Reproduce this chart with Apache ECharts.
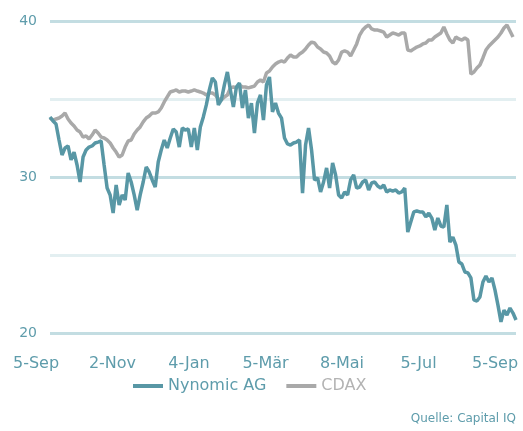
<!DOCTYPE html>
<html>
<head>
<meta charset="utf-8">
<script src="https://cdn.jsdelivr.net/npm/echarts@6/dist/echarts.min.js"></script>
<style>
html,body{margin:0;padding:0;background:#fff;}
#chart{width:523px;height:431px;}
</style>
</head>
<body>
<div id="chart"></div>
<script>
// Tick labels
var xTickLabels = ['5-Sep', '2-Nov', '4-Jan', '5-Mär', '8-Mai', '5-Jul', '5-Sep'];
var seriesNames = ['Nynomic AG', 'CDAX'];

// Nynomic AG (observation order, evenly spaced over the year)
var nynomic = [
  33.85,33.59,33.40,32.37,31.41,31.86,31.99,31.09,31.60,30.77,
  29.68,31.28,31.73,31.92,31.99,32.18,32.24,32.31,30.77,29.29,
  28.85,27.69,29.49,28.21,28.85,28.53,30.26,29.68,28.85,27.88,
  28.85,29.68,30.64,30.32,29.81,29.36,30.96,31.73,32.37,31.86,
  32.50,33.08,32.88,31.92,33.14,33.01,33.08,31.92,33.14,31.73,
  33.21,33.85,34.62,35.58,36.35,36.09,34.62,34.94,35.90,36.73,
  35.58,34.49,35.77,36.03,34.42,35.58,33.78,34.74,32.82,34.74,
  35.26,33.65,35.90,36.41,34.17,34.74,34.10,33.78,32.50,32.12,
  32.05,32.18,32.24,32.37,28.97,32.05,33.14,31.73,29.81,29.94,
  29.04,29.68,30.58,29.29,30.90,30.13,28.85,28.65,29.04,28.85,
  29.81,30.13,29.29,29.36,29.68,29.81,29.17,29.62,29.68,29.42,
  29.29,29.49,29.04,29.17,29.10,29.17,28.97,29.04,29.29,26.47,
  27.12,27.76,27.82,27.76,27.76,27.44,27.69,27.37,26.60,27.37,
  26.86,26.79,28.21,25.83,26.15,25.64,24.55,24.42,23.91,23.85,
  23.53,22.12,22.05,22.31,23.27,23.65,23.27,23.53,22.76,21.79,
  20.71,21.47,21.15,21.60,21.28,20.83
];

// CDAX (rebased)
var cdax = [
  33.78,33.65,33.72,33.78,33.91,34.10,33.72,33.46,33.27,33.01,
  32.88,32.56,32.63,32.44,32.69,33.01,32.82,32.56,32.50,32.37,
  32.18,31.86,31.60,31.28,31.41,31.92,32.31,32.37,32.76,33.01,
  33.21,33.53,33.78,33.91,34.10,34.10,34.17,34.42,34.81,35.13,
  35.45,35.51,35.58,35.45,35.51,35.51,35.45,35.51,35.58,35.51,
  35.45,35.38,35.26,35.38,35.38,35.26,35.00,34.94,35.13,35.26,
  35.71,35.77,35.71,35.90,35.77,35.77,35.71,35.77,35.83,36.09,
  36.22,36.09,36.67,36.79,37.05,37.24,37.37,37.44,37.37,37.63,
  37.82,37.69,37.69,37.88,38.01,38.21,38.46,38.65,38.59,38.33,
  38.21,38.01,37.95,37.76,37.37,37.24,37.50,38.01,38.08,38.01,
  37.76,38.14,38.53,39.10,39.42,39.62,39.74,39.49,39.42,39.42,
  39.36,39.29,38.97,39.10,39.23,39.17,39.10,39.23,39.23,38.14,
  38.08,38.21,38.33,38.40,38.53,38.59,38.78,38.78,38.97,39.10,
  39.23,39.62,39.17,38.78,38.59,38.97,38.85,38.78,38.91,38.78,
  36.60,36.73,36.99,37.18,37.63,38.14,38.40,38.59,38.78,38.97,
  39.23,39.55,39.74,39.36,38.97
];

var obs = nynomic.map(function(_, i){ return i; });

var teal = '#5897a5';
var gray = '#a9a9a9';
var labelColor = '#5e9cab';
var fontFam = 'DejaVu Sans';

var chart = echarts.init(document.getElementById('chart'), null, {renderer: 'canvas'});
chart.setOption({
  animation: false,
  backgroundColor: '#ffffff',
  title: {
    text: 'Quelle: Capital IQ',
    right: 2, bottom: 1,
    textStyle: {fontSize: 12, fontWeight: 'normal', color: labelColor, fontFamily: fontFam}
  },
  legend: {
    left: 128, top: 373,
    icon: 'rect', itemWidth: 30, itemHeight: 4, itemGap: 20,
    textStyle: {fontSize: 16, fontFamily: fontFam},
    data: [
      {name: seriesNames[0], textStyle: {color: labelColor}},
      {name: seriesNames[1], textStyle: {color: '#b3b3b3'}}
    ]
  },
  grid: [
    {left: 50, right: 7, top: 21, height: 312, containLabel: false},
    {left: 36, right: 28, top: 21, height: 312, containLabel: false}
  ],
  xAxis: [
    {
      type: 'category', gridIndex: 0, data: obs, boundaryGap: false,
      axisLine: {show: false}, axisTick: {show: false}, axisLabel: {show: false}, splitLine: {show: false}
    },
    {
      type: 'category', gridIndex: 1, data: xTickLabels, boundaryGap: false,
      axisLine: {show: false}, axisTick: {show: false}, splitLine: {show: false},
      axisLabel: {show: true, interval: 0, margin: 23, fontSize: 16, color: labelColor, fontFamily: fontFam}
    }
  ],
  yAxis: [
    {
      type: 'value', gridIndex: 0, min: 20, max: 40, interval: 5,
      axisLine: {show: false}, axisTick: {show: false},
      axisLabel: {
        margin: 13, fontSize: 14, color: labelColor, fontFamily: fontFam,
        formatter: function(v){ return (v % 10 === 0) ? String(v) : ''; }
      },
      splitLine: {show: true, lineStyle: {width: 3, color: ['#c3dde2', '#e3eff1']}}
    },
    {
      type: 'value', gridIndex: 1, min: 20, max: 40, show: false
    }
  ],
  series: [
    {
      name: seriesNames[1], type: 'line', xAxisIndex: 0, yAxisIndex: 0,
      data: cdax, showSymbol: false, symbol: 'none', smooth: false,
      lineStyle: {color: gray, width: 3.5}, itemStyle: {color: gray}, z: 2
    },
    {
      name: seriesNames[0], type: 'line', xAxisIndex: 0, yAxisIndex: 0,
      data: nynomic, showSymbol: false, symbol: 'none', smooth: false,
      lineStyle: {color: teal, width: 3.5}, itemStyle: {color: teal}, z: 3
    }
  ]
});
</script>
</body>
</html>
